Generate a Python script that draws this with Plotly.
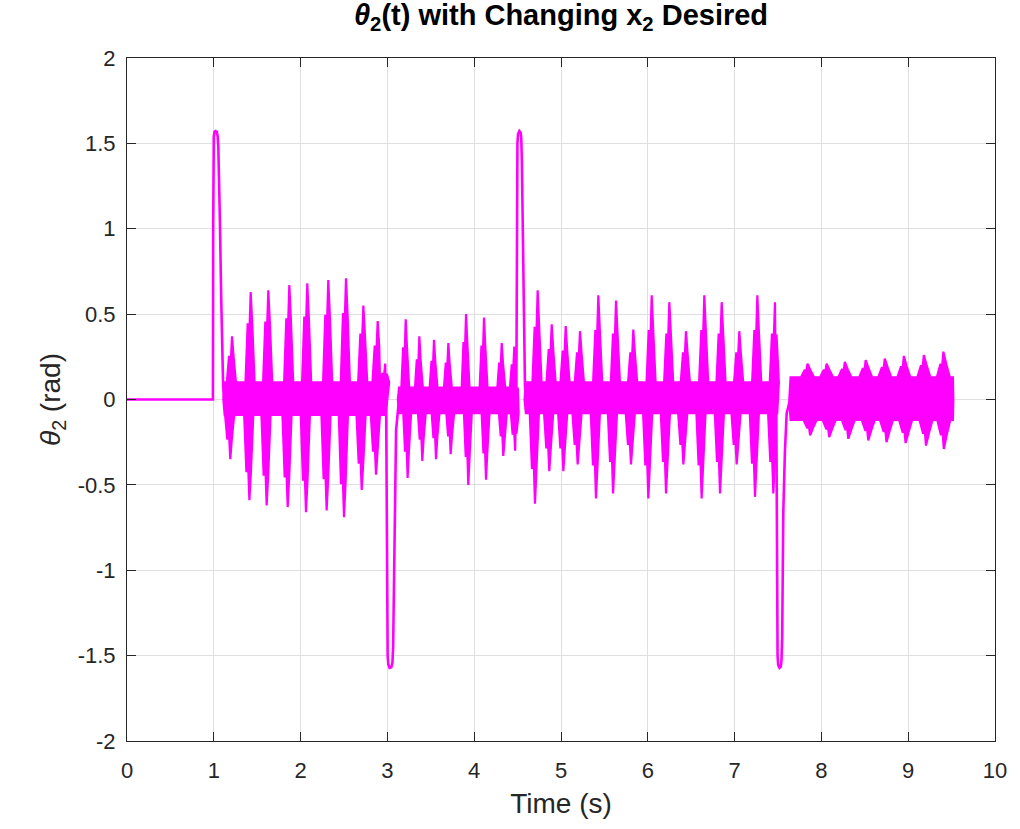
import plotly.graph_objects as go

# ---------------- data ----------------
# large excursions (time s, theta2 rad)
spike1_t = [0.0, 0.99, 0.993, 0.996, 1.0, 1.008, 1.02, 1.035, 1.045, 1.052, 1.062, 1.07, 1.085, 1.10, 1.108, 1.12]
spike1_v = [0.0, 0.0, 1.0, 1.45, 1.54, 1.568, 1.572, 1.568, 1.54, 1.48, 1.30, 1.05, 0.60, 0.27, 0.07, 0.0]
spike2_t = [2.985, 2.992, 2.998, 3.003, 3.01, 3.025, 3.045, 3.058, 3.066, 3.075, 3.086, 3.10, 3.126, 3.14]
spike2_v = [0.0, -0.8, -1.3, -1.50, -1.55, -1.572, -1.568, -1.54, -1.45, -1.0, -0.47, -0.18, -0.04, 0.0]
spike3_t = [4.485, 4.489, 4.493, 4.498, 4.505, 4.52, 4.535, 4.542, 4.549, 4.559, 4.574, 4.585, 4.60]
spike3_v = [0.0, 0.8, 1.3, 1.50, 1.555, 1.572, 1.562, 1.53, 1.40, 1.05, 0.47, 0.075, 0.0]
spike4_t = [7.48, 7.485, 7.49, 7.495, 7.502, 7.517, 7.532, 7.54, 7.548, 7.561, 7.58, 7.60, 7.64]
spike4_v = [0.0, -0.8, -1.3, -1.50, -1.555, -1.572, -1.565, -1.53, -1.40, -0.66, -0.30, -0.08, 0.0]

# oscillation segments: positive peaks, negative troughs, their shoulders
segA = dict(start=1.11, end=2.985, hi=0.10, lo=-0.09,
            pk_t=[1.21, 1.425, 1.628, 1.87, 2.077, 2.319, 2.523, 2.723, 2.888, 2.975],
            pk_v=[0.37, 0.63, 0.64, 0.67, 0.68, 0.70, 0.71, 0.55, 0.46, 0.21],
            pk_s=[0.25, 0.44, 0.45, 0.47, 0.48, 0.49, 0.50, 0.38, 0.31, 0.15],
            tr_t=[1.19, 1.41, 1.609, 1.851, 2.062, 2.30, 2.50, 2.704, 2.869],
            tr_v=[-0.35, -0.59, -0.62, -0.63, -0.66, -0.65, -0.69, -0.53, -0.44],
            tr_s=[-0.23, -0.42, -0.44, -0.45, -0.47, -0.46, -0.49, -0.37, -0.30])
segB = dict(start=3.12, end=4.485, hi=0.07, lo=-0.08,
            pk_t=[3.211, 3.368, 3.537, 3.702, 3.906, 4.113, 4.317, 4.462],
            pk_v=[0.47, 0.37, 0.35, 0.33, 0.50, 0.48, 0.33, 0.31],
            pk_s=[0.30, 0.23, 0.22, 0.21, 0.33, 0.31, 0.21, 0.20],
            tr_t=[3.233, 3.402, 3.56, 3.729, 3.932, 4.136, 4.335, 4.472],
            tr_v=[-0.46, -0.36, -0.35, -0.32, -0.50, -0.47, -0.33, -0.30],
            tr_s=[-0.30, -0.23, -0.22, -0.21, -0.33, -0.31, -0.21, -0.20])
segC = dict(start=4.58, end=7.48, hi=0.10, lo=-0.08,
            pk_t=[4.731, 4.893, 5.054, 5.219, 5.43, 5.634, 5.833, 6.045, 6.248, 6.44,
                  6.651, 6.851, 7.054, 7.262, 7.465],
            pk_v=[0.64, 0.44, 0.43, 0.40, 0.61, 0.58, 0.41, 0.61, 0.57, 0.40,
                  0.61, 0.57, 0.40, 0.61, 0.57],
            pk_s=[0.42, 0.29, 0.28, 0.27, 0.40, 0.38, 0.27, 0.40, 0.38, 0.27,
                  0.40, 0.38, 0.27, 0.40, 0.38],
            tr_t=[4.70, 4.865, 5.027, 5.192, 5.403, 5.60, 5.806, 6.006, 6.21, 6.41,
                  6.62, 6.832, 7.024, 7.235, 7.446],
            tr_v=[-0.61, -0.42, -0.42, -0.38, -0.58, -0.55, -0.38, -0.58, -0.55, -0.38,
                  -0.58, -0.55, -0.38, -0.57, -0.55],
            tr_s=[-0.40, -0.28, -0.28, -0.26, -0.38, -0.36, -0.26, -0.38, -0.36, -0.26,
                  -0.38, -0.36, -0.26, -0.37, -0.36])
segD = dict(start=7.63, end=9.52, hi=0.13, lo=-0.12,
            pk_t=[7.84, 8.06, 8.27, 8.51, 8.73, 8.95, 9.18, 9.405],
            pk_v=[0.21, 0.21, 0.22, 0.23, 0.24, 0.255, 0.26, 0.28],
            pk_s=[0.17, 0.17, 0.175, 0.18, 0.185, 0.19, 0.195, 0.205],
            tr_t=[7.87, 8.09, 8.31, 8.54, 8.75, 8.97, 9.205, 9.41],
            tr_v=[-0.21, -0.22, -0.23, -0.24, -0.25, -0.255, -0.27, -0.29],
            tr_s=[-0.165, -0.17, -0.175, -0.18, -0.185, -0.19, -0.195, -0.205])

x_ticks = [0, 1, 2, 3, 4, 5, 6, 7, 8, 9, 10]
x_text = ["0", "1", "2", "3", "4", "5", "6", "7", "8", "9", "10"]
y_ticks = [2, 1.5, 1, 0.5, 0, -0.5, -1, -1.5, -2]
y_text = ["2", "1.5", "1", "0.5", "0", "-0.5", "-1", "-1.5", "-2"]

# ---------------- drawing ----------------
MAG = "#FF00FF"
FONT = "Liberation Sans, Arial, Helvetica, sans-serif"
INK = "#262626"


def envelope(times, vals, shs, core, w):
    pts = []
    for t, v, s in zip(times, vals, shs):
        pts += [(t - w[0], core), (t - w[1], s), (t - w[2], s), (t, v),
                (t + w[3], s), (t + w[4], core)]
    return pts


def band_polygon(seg, w):
    s0, s1 = seg["start"], seg["end"]
    up = [(s0, 0.0), (s0 + 0.015, seg["hi"])] + \
        envelope(seg["pk_t"], seg["pk_v"], seg["pk_s"], seg["hi"], w) + \
        [(s1 - 0.005, seg["hi"]), (s1, 0.0)]
    dn = [(s0 + 0.015, seg["lo"])] + \
        envelope(seg["tr_t"], seg["tr_v"], seg["tr_s"], seg["lo"], w) + \
        [(s1 - 0.005, seg["lo"])]
    up.sort(key=lambda p: p[0])
    dn.sort(key=lambda p: p[0])
    pts = up + dn[::-1] + [up[0]]
    return [p[0] for p in pts], [p[1] for p in pts]


fig = go.Figure()

for seg, w in [(segA, (0.06, 0.035, 0.012, 0.018, 0.045)),
               (segB, (0.05, 0.03, 0.01, 0.015, 0.04)),
               (segC, (0.06, 0.035, 0.012, 0.018, 0.045)),
               (segD, (0.075, 0.035, 0.012, 0.035, 0.075))]:
    px, py = band_polygon(seg, w)
    fig.add_trace(go.Scatter(x=px, y=py, mode="lines", fill="toself", fillcolor=MAG,
                             line=dict(color=MAG, width=2.2), hoverinfo="skip",
                             showlegend=False))

for st, sv in [(spike1_t, spike1_v), (spike2_t, spike2_v), (spike3_t, spike3_v), (spike4_t, spike4_v)]:
    fig.add_trace(go.Scatter(x=st, y=sv, mode="lines", line=dict(color=MAG, width=2.6),
                             showlegend=False))

axis_common = dict(showline=True, linecolor=INK, linewidth=1, mirror="ticks",
                   ticks="inside", ticklen=9, tickcolor=INK, tickwidth=1,
                   showgrid=True, gridcolor="#DFDFDF", gridwidth=1, zeroline=False,
                   tickfont=dict(family=FONT, size=22, color=INK))

fig.update_xaxes(range=[0, 10], tickvals=x_ticks, ticktext=x_text, ticklabelstandoff=10,
                 title=dict(text="Time (s)", font=dict(family=FONT, size=28, color=INK),
                            standoff=10),
                 **axis_common)
fig.update_yaxes(range=[-2, 2], tickvals=y_ticks, ticktext=y_text, ticklabelstandoff=6,
                 title=dict(text="<i>θ</i><sub>2</sub> (rad)",
                            font=dict(family=FONT, size=28, color=INK), standoff=8),
                 **axis_common)

fig.update_layout(
    width=1020, height=829,
    margin=dict(l=127, r=25, t=58, b=88),
    paper_bgcolor="white", plot_bgcolor="white",
    title=dict(text="<b><i>θ</i><sub>2</sub>(t) with Changing x<sub>2</sub> Desired</b>",
               x=(127 + 995) / 2 / 1020, xanchor="center", y=0.994, yanchor="top",
               font=dict(family=FONT, size=29, color="black")),
)

fig.write_html("out.html")
